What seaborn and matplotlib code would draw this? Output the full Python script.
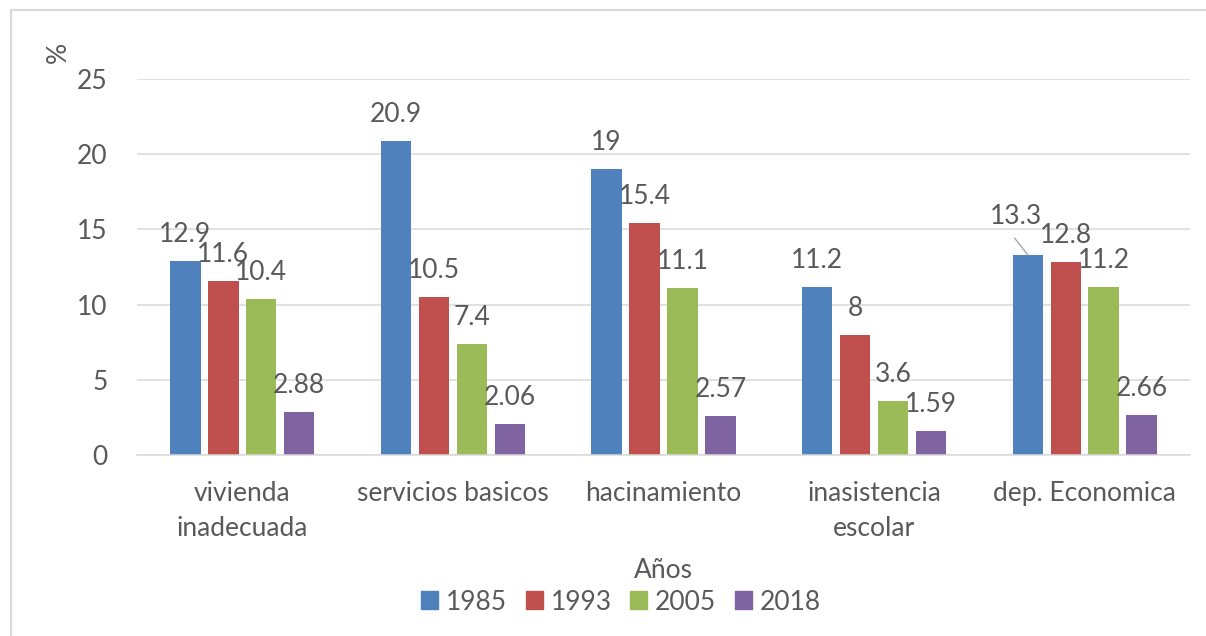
import matplotlib
matplotlib.use("Agg")
import matplotlib.pyplot as plt
from matplotlib.lines import Line2D
import seaborn as sns
import pandas as pd

# ---- data ----
categories = ["vivienda\ninadecuada", "servicios basicos", "hacinamiento",
              "inasistencia\nescolar", "dep. Economica"]
years = ["1985", "1993", "2005", "2018"]
v1985 = [12.9, 20.9, 19.0, 11.2, 13.3]
v1993 = [11.6, 10.5, 15.4, 8.0, 12.8]
v2005 = [10.4, 7.4, 11.1, 3.6, 11.2]
v2018 = [2.88, 2.06, 2.57, 1.59, 2.66]
yticks = [0, 5, 10, 15, 20, 25]
colors = ["#4F81BD", "#C0504D", "#9BBB59", "#8064A2"]

series = {"1985": v1985, "1993": v1993, "2005": v2005, "2018": v2018}
rows = []
for y in years:
    for c, v in zip(categories, series[y]):
        rows.append({"cat": c, "year": y, "val": v})
df = pd.DataFrame(rows)

sns.set_style("white")
plt.rcParams["font.family"] = ["Lato", "DejaVu Sans"]
TXT = "#595959"
GRID = "#D9D9D9"
FS = 19

fig = plt.figure(figsize=(12.06, 6.36), dpi=100)
ax = fig.add_axes([137 / 1206, 1 - 455 / 636, 1053 / 1206, 376 / 636])

sns.barplot(data=df, x="cat", y="val", hue="year", order=categories,
            hue_order=years, palette=dict(zip(years, colors)),
            width=0.72, gap=0.2, linewidth=0, ax=ax, legend=False,
            errorbar=None, saturation=1)

ax.set_xlim(-0.5, len(categories) - 0.5)
ax.set_ylim(0, 25)
ax.set_yticks(yticks)
ax.set_yticklabels([str(t) for t in yticks])
ax.grid(axis="y", color=GRID, linewidth=1.1)
ax.set_axisbelow(True)
for s in ["top", "right", "left"]:
    ax.spines[s].set_visible(False)
ax.spines["bottom"].set_color(GRID)
ax.spines["bottom"].set_linewidth(1.1)
ax.tick_params(axis="y", length=0, pad=21, labelsize=FS, labelcolor=TXT)
ax.tick_params(axis="x", length=0, pad=19, labelsize=FS, labelcolor=TXT)
for lab in ax.get_xticklabels():
    lab.set_linespacing(1.5)
ax.set_xlabel("")
ax.set_ylabel("")

# data labels
for yi, cont in enumerate(ax.containers):
    for ci, bar in enumerate(cont):
        h = bar.get_height()
        x = bar.get_x() + bar.get_width() / 2
        txt = f"{h:g}"
        if yi == 0 and ci == len(categories) - 1:
            ax.annotate("", xy=(x, h), xytext=(-9.6, 12.2), textcoords="offset points",
                        arrowprops=dict(arrowstyle="-", color="#A6A6A6", lw=1.0,
                                        shrinkA=0, shrinkB=0))
            ax.annotate(txt, xy=(x, h), xytext=(-8.6, 22.5), textcoords="offset points",
                        ha="center", va="baseline", fontsize=FS, color=TXT)
        else:
            ax.annotate(txt, xy=(x, h), xytext=(0, 13.7), textcoords="offset points",
                        ha="center", va="baseline", fontsize=FS, color=TXT)

# axis titles
fig.text(58 / 1206, 1 - 52 / 636, "%", rotation=90, ha="center", va="center",
         fontsize=FS, color=TXT)
fig.text(663 / 1206, 1 - 571 / 636, "Años", ha="center", va="center",
         fontsize=FS, color=TXT)

# legend
handles = [plt.Rectangle((0, 0), 1, 1, color=c) for c in colors]
fig.legend(handles, years, loc="center", bbox_to_anchor=(621 / 1206, 1 - 602 / 636),
           ncol=4, frameon=False, fontsize=FS, labelcolor=TXT,
           handlelength=0.65, handleheight=0.65, handletextpad=0.3,
           columnspacing=0.7)

# chart border (left and top visible)
fig.add_artist(Line2D([11 / 1206, 11 / 1206], [0, 1 - 10 / 636], color=GRID,
                      lw=1.5, transform=fig.transFigure))
fig.add_artist(Line2D([11 / 1206, 1], [1 - 10 / 636, 1 - 10 / 636], color=GRID,
                      lw=1.5, transform=fig.transFigure))

fig.savefig("out.png", dpi=100)
